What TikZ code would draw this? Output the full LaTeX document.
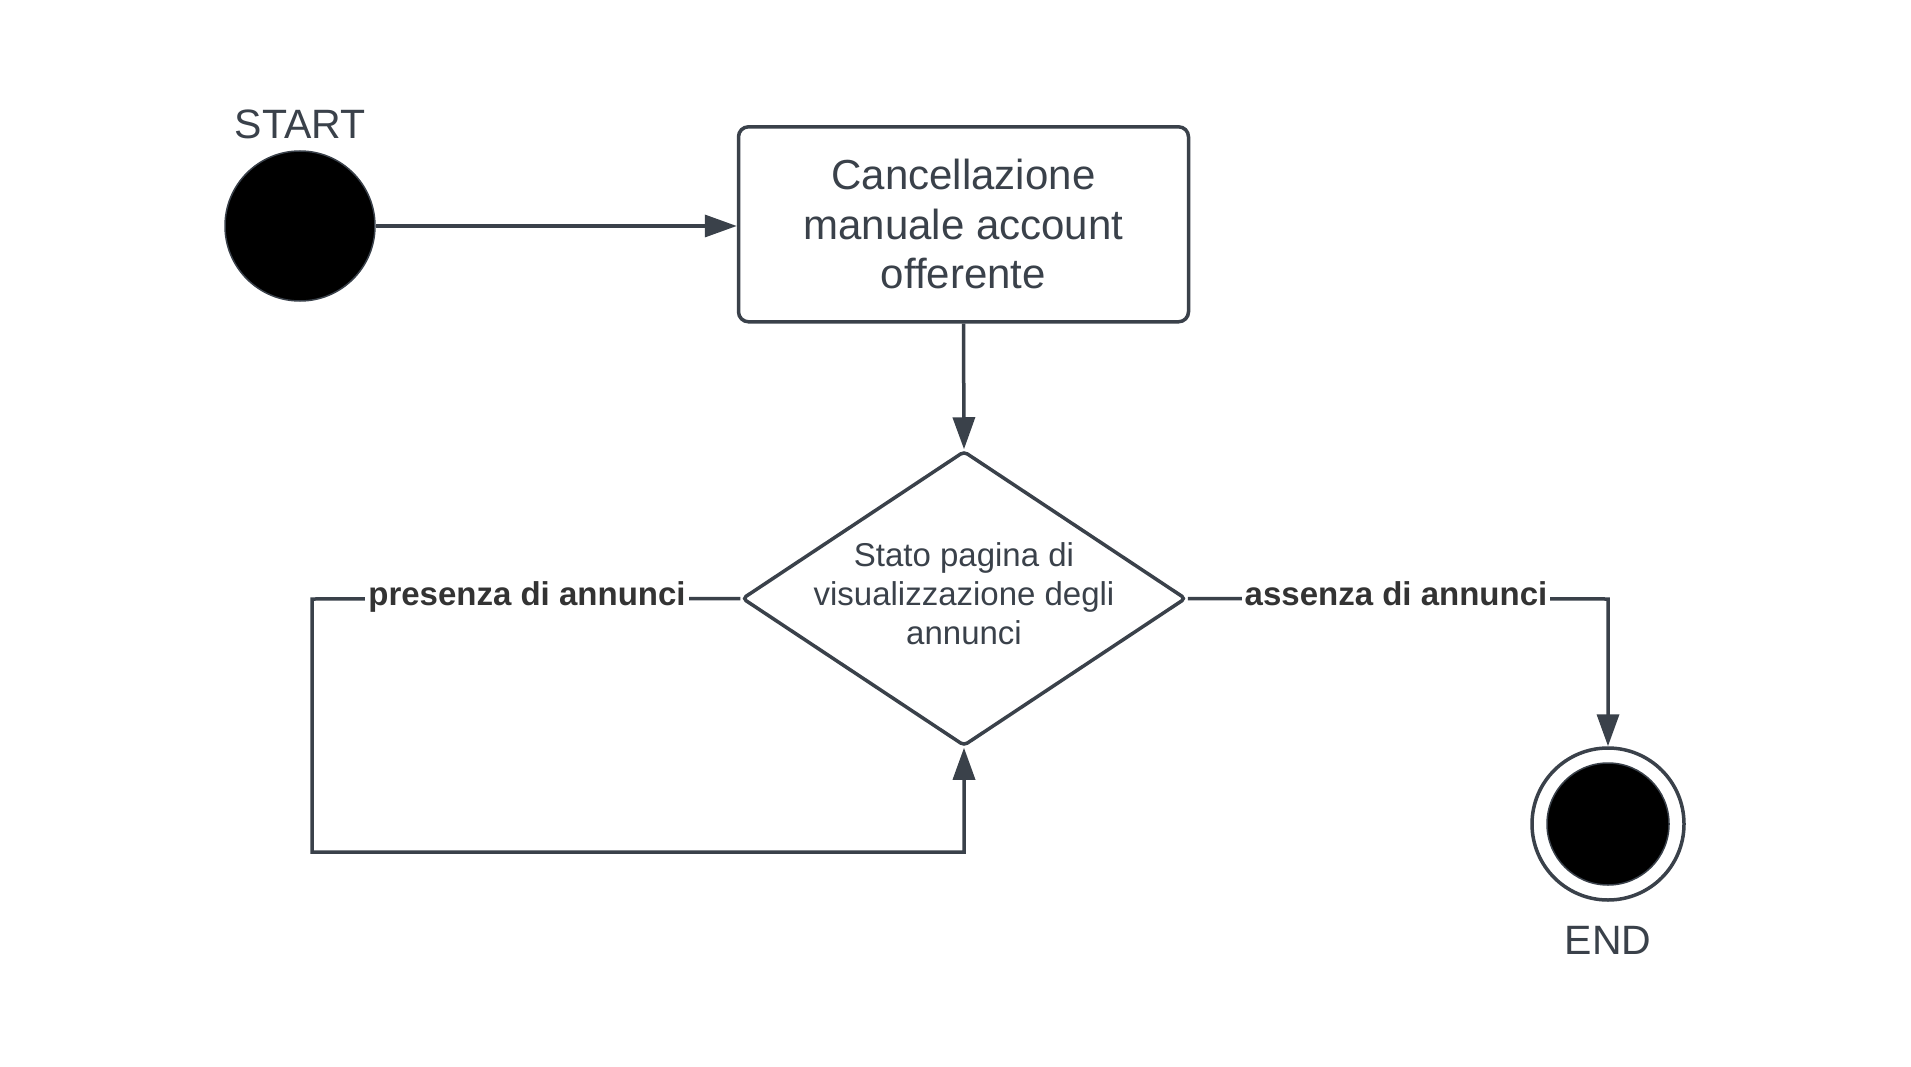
\documentclass[tikz,border=0pt]{standalone}
\usepackage{fontspec}
\setmainfont{Liberation Sans}
\usetikzlibrary{arrows.meta,shapes.geometric}
\definecolor{linec}{RGB}{58,65,74}
\definecolor{lblc}{RGB}{51,51,51}
\tikzset{
  conn/.style={draw=linec, line width=3.5pt},
  arr/.style={conn, -{Triangle[length=32pt,width=22pt]}},
  startdot/.style={circle, fill=black, draw=linec, line width=1.5pt, minimum size=150pt, inner sep=0pt},
  endouter/.style={circle, draw=linec, line width=3.5pt, fill=white, minimum size=152pt, inner sep=0pt},
  enddot/.style={circle, fill=black, draw=linec, line width=1.5pt, minimum size=122pt, inner sep=0pt},
  bigtext/.style={text=linec, font=\fontsize{41pt}{48pt}\selectfont},
  actbox/.style={draw=linec, line width=3.5pt, rounded corners=10pt, minimum width=450pt, minimum height=195pt, align=center, text=linec, font=\fontsize{42pt}{49.5pt}\selectfont, inner sep=0pt},
  decision/.style={diamond, draw=linec, line width=3.5pt, rounded corners=4pt, minimum width=444pt, minimum height=295pt, inner sep=0pt},
  dectext/.style={align=center, text=linec, font=\fontsize{33pt}{39pt}\selectfont, inner sep=0pt},
  guard/.style={fill=white, text=lblc, font=\fontsize{33pt}{39pt}\selectfont\bfseries, inner xsep=3pt, inner ysep=2pt, anchor=base}
}
\begin{document}
\begin{tikzpicture}[x=1pt,y=-1pt]
\path[use as bounding box, fill=white] (0,0) rectangle (1911,1067);

% start
\node[startdot] (start) at (300,226) {};
\node[bigtext, anchor=base] (startlbl) at (300,139) {START};

% activity box
\node[actbox] (box) at (963.5,224.3) {Cancellazione\\manuale account\\offerente};

% decision
\node[decision] (dia) at (964,598.5) {};
\node[dectext] (diatext) at (964,594) {Stato pagina di\\visualizzazione degli\\annunci};

% end
\node[endouter] (endc) at (1608,824) {};
\node[enddot] (endin) at (1608,824) {};
\node[bigtext, anchor=base] (endlbl) at (1608,954) {END};

% corner coordinates
\coordinate (l1) at (312,599);
\coordinate (l2) at (312,852);
\coordinate (l3) at (964,852);
\coordinate (r1) at (1608,599);

% connectors
\draw[arr] (start.east) -- (start.east -| box.west);
\draw[arr] (box.south) -- (dia.north);
\draw[arr] (dia.west) -- (l1) -- (l2) -- (l3) -- (dia.south);
\draw[arr] (dia.east) -- (r1) -- (endc.north);

% guards
\node[guard] (g1) at (527,605) {presenza di annunci};
\node[guard] (g2) at (1396,605) {assenza di annunci};
\end{tikzpicture}
\end{document}
